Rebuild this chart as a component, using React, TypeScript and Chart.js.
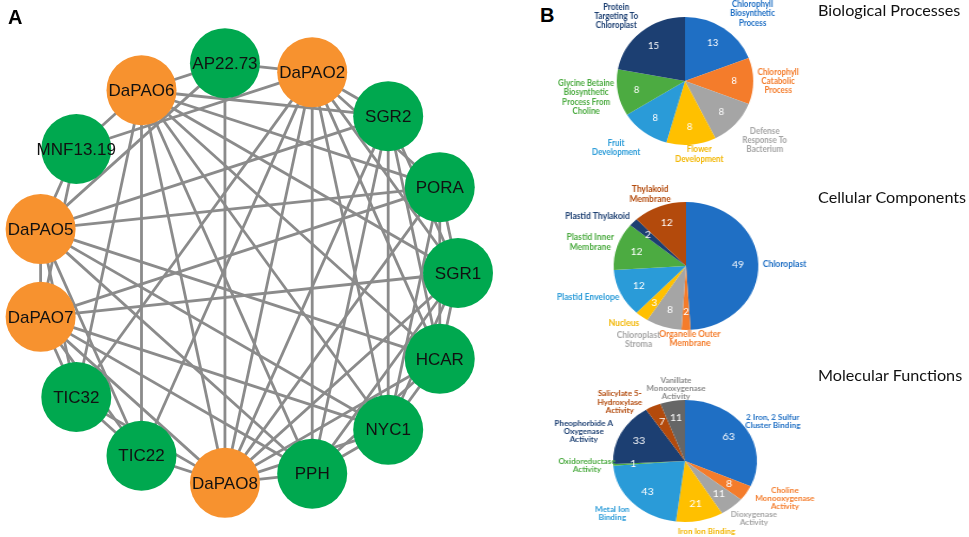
import React, { useEffect, useRef } from 'react';
import { Chart, registerables } from 'chart.js';
Chart.register(...registerables);

// ---------------- Panel A: interaction network ----------------
const nodeNames = ['SGR1', 'HCAR', 'NYC1', 'PPH', 'DaPAO8', 'TIC22', 'TIC32', 'DaPAO7', 'DaPAO5', 'MNF13.19', 'DaPAO6', 'AP22.73', 'DaPAO2', 'SGR2', 'PORA'];
const paoNodes = ['DaPAO2', 'DaPAO5', 'DaPAO6', 'DaPAO7', 'DaPAO8'];
const dapao2Links = ['SGR2', 'PORA', 'SGR1', 'HCAR', 'NYC1', 'PPH', 'TIC22', 'TIC32', 'DaPAO8', 'AP22.73', 'MNF13.19'];
const dapao6Links = ['SGR2', 'PORA', 'SGR1', 'HCAR', 'NYC1', 'PPH', 'TIC22', 'TIC32', 'DaPAO8', 'AP22.73', 'MNF13.19'];
const dapao8Links = ['SGR2', 'PORA', 'SGR1', 'HCAR', 'NYC1', 'PPH', 'TIC22', 'TIC32', 'AP22.73', 'DaPAO7'];
const dapao5Links = ['PORA', 'HCAR', 'NYC1', 'PPH', 'TIC22', 'TIC32', 'DaPAO7', 'MNF13.19', 'AP22.73', 'SGR2'];
const dapao7Links = ['SGR1', 'PORA', 'NYC1', 'PPH', 'TIC22', 'TIC32', 'MNF13.19'];
const partnerLinks: [string, string][] = [
  ['SGR1', 'SGR2'], ['SGR1', 'NYC1'], ['SGR1', 'PPH'], ['SGR1', 'HCAR'], ['SGR1', 'PORA'],
  ['SGR2', 'NYC1'], ['SGR2', 'PPH'], ['SGR2', 'HCAR'], ['NYC1', 'PPH'], ['NYC1', 'HCAR'],
  ['HCAR', 'PPH'], ['PORA', 'HCAR'], ['PORA', 'NYC1'], ['TIC22', 'TIC32'],
];

// ---------------- Panel B: GO pies ----------------
const bpCategories = ['Chlorophyll\nBiosynthetic\nProcess', 'Chlorophyll\nCatabolic\nProcess', 'Defense\nResponse To\nBacterium', 'Flower\nDevelopment', 'Fruit\nDevelopment', 'Glycine Betaine\nBiosynthetic\nProcess From\nCholine', 'Protein\nTargeting To\nChloroplast'];
const bpValues = [13, 8, 8, 8, 8, 8, 15];

const ccCategories = ['Chloroplast', 'Organelle Outer\nMembrane', 'Chloroplast\nStroma', 'Nucleus', 'Plastid Envelope', 'Plastid Inner\nMembrane', 'Plastid Thylakoid', 'Thylakoid\nMembrane'];
const ccValues = [49, 2, 8, 3, 12, 12, 2, 12];

const mfCategories = ['2 Iron, 2 Sulfur\nCluster Binding', 'Choline\nMonooxygenase\nActivity', 'Dioxygenase\nActivity', 'Iron Ion Binding', 'Metal Ion\nBinding', 'Oxidoreductase\nActivity', 'Pheophorbide A\nOxygenase\nActivity', 'Salicylate 5-\nHydroxylase\nActivity', 'Vanillate\nMonooxygenase\nActivity'];
const mfValues = [63, 8, 11, 21, 43, 1, 33, 7, 11];

const panelTitles = ['Biological Processes', 'Cellular Components', 'Molecular Functions'];

const sliceColors = ['#1F6FC4', '#F47C2B', '#A5A5A5', '#FFC000', '#2A9BD8', '#4CAB41', '#1C3F72', '#B34A0C', '#666666'];
const labelColors = ['#1F6FC4', '#F47C2B', '#A5A5A5', '#F2B600', '#2A9BD8', '#4CAB41', '#1C3F72', '#B34A0C', '#8A8A8A'];

const GREEN = '#00A84F';
const ORANGE = '#F7922F';

function NetworkChart() {
  const ref = useRef<HTMLCanvasElement | null>(null);
  useEffect(() => {
    const n = nodeNames.length;
    const pos = (name: string) => {
      const i = nodeNames.indexOf(name);
      const a = (-i * 2 * Math.PI) / n;
      return { x: Math.cos(a), y: Math.sin(a) };
    };
    const edges: [string, string][] = [];
    const seen = new Set<string>();
    const add = (a: string, b: string) => {
      const k = [a, b].sort().join('|');
      if (seen.has(k)) return;
      seen.add(k);
      edges.push([a, b]);
    };
    dapao2Links.forEach((b) => add('DaPAO2', b));
    dapao6Links.forEach((b) => add('DaPAO6', b));
    dapao8Links.forEach((b) => add('DaPAO8', b));
    dapao5Links.forEach((b) => add('DaPAO5', b));
    dapao7Links.forEach((b) => add('DaPAO7', b));
    partnerLinks.forEach(([a, b]) => add(a, b));

    const edgeSets = edges.map(([a, b]) => ({
      type: 'line' as const,
      data: [pos(a), pos(b)],
      borderColor: '#8B8B8B',
      borderWidth: 2.8,
      pointRadius: 0,
      showLine: true,
      order: 2,
      clip: false as any,
    }));
    const nodeSet = {
      type: 'scatter' as const,
      data: nodeNames.map((nm) => pos(nm)),
      pointRadius: 35,
      pointBackgroundColor: nodeNames.map((nm) => (paoNodes.includes(nm) ? ORANGE : GREEN)),
      pointBorderWidth: 0,
      borderWidth: 0,
      order: 1,
      clip: false as any,
    };
    const labelPlugin = {
      id: 'nodeLabels',
      afterDatasetsDraw(chart: any) {
        const ctx = chart.ctx;
        const meta = chart.getDatasetMeta(0);
        ctx.save();
        ctx.font = '17px "Liberation Sans", Arial, sans-serif';
        ctx.fillStyle = '#111';
        ctx.textAlign = 'center';
        ctx.textBaseline = 'middle';
        meta.data.forEach((pt: any, i: number) => ctx.fillText(nodeNames[i], pt.x, pt.y + 1));
        ctx.restore();
      },
    };
    const chart = new Chart(ref.current!, {
      type: 'scatter',
      data: { datasets: [nodeSet as any, ...(edgeSets as any)] },
      options: {
        responsive: false,
        animation: false,
        events: [],
        layout: { padding: 0, autoPadding: false },
        scales: {
          x: { type: 'linear', display: false, min: -1.1706, max: 1.2938 },
          y: { type: 'linear', display: false, min: -1.2512, max: 1.2938 },
        },
        plugins: { legend: { display: false }, tooltip: { enabled: false } },
      },
      plugins: [labelPlugin],
    });
    return () => chart.destroy();
  }, []);
  return <canvas ref={ref} width={520} height={537} style={{ position: 'absolute', left: 0, top: 0 }} />;
}

type PieProps = {
  categories: string[];
  values: number[];
  cx: number;
  cy: number;
  r: number;
  sx: number;
  fontPx: number;
  lineH: number;
  nudges: [number, number][];
};

const PW = 260;
const PH = 190;
const SQUEEZE = 0.82;

function PieChart({ categories, values, cx, cy, r, sx, fontPx, lineH, nudges }: PieProps) {
  const ref = useRef<HTMLCanvasElement | null>(null);
  useEffect(() => {
    const colors = sliceColors.slice(0, values.length);
    const lcolors = labelColors.slice(0, values.length);
    const labelPlugin = {
      id: 'pieLabels',
      afterDatasetsDraw(chart: any) {
        const ctx = chart.ctx;
        const meta = chart.getDatasetMeta(0);
        ctx.save();
        ctx.textAlign = 'center';
        ctx.textBaseline = 'middle';
        meta.data.forEach((arc: any, i: number) => {
          const p = arc.getProps(['x', 'y', 'startAngle', 'endAngle', 'outerRadius'], true);
          const mid = (p.startAngle + p.endAngle) / 2;
          const dx = Math.cos(mid);
          const dy = Math.sin(mid);
          // value inside the slice
          const vx = p.x + dx * p.outerRadius * 0.72;
          const vy = p.y + dy * p.outerRadius * 0.72;
          ctx.save();
          ctx.translate(vx, vy);
          ctx.scale(0.9, 1);
          ctx.font = '10px Lato, "Open Sans", sans-serif';
          ctx.fillStyle = '#ffffff';
          ctx.fillText(String(values[i]), 0, 0);
          ctx.restore();
          // category label outside
          const lines = categories[i].split('\n');
          ctx.font = `bold ${fontPx}px Lato, "Open Sans", sans-serif`;
          const w = Math.max(...lines.map((l) => ctx.measureText(l).width)) * SQUEEZE;
          const h = lines.length * lineH;
          const gap = 4;
          const ax = p.x + dx * (p.outerRadius + gap);
          const ay = p.y + dy * (p.outerRadius + gap);
          const bx = ax + (dx * w) / 2 + nudges[i][0];
          const by = ay + (dy * h) / 2 + nudges[i][1];
          ctx.fillStyle = lcolors[i];
          lines.forEach((l, k) => {
            ctx.save();
            ctx.translate(bx, by - h / 2 + lineH * (k + 0.5));
            ctx.scale(SQUEEZE, 1);
            ctx.fillText(l, 0, 0);
            ctx.restore();
          });
        });
        ctx.restore();
      },
    };
    const chart = new Chart(ref.current!, {
      type: 'pie',
      data: {
        labels: categories,
        datasets: [{ data: values, backgroundColor: colors, borderWidth: 0 }],
      },
      options: {
        responsive: false,
        animation: false,
        events: [],
        layout: { padding: { left: PW / 2 - r, right: PW / 2 - r, top: PH / 2 - r, bottom: PH / 2 - r } },
        plugins: { legend: { display: false }, tooltip: { enabled: false } },
      },
      plugins: [labelPlugin],
    });
    return () => chart.destroy();
  }, []);
  return (
    <div
      style={{
        position: 'absolute',
        left: cx - PW / 2,
        top: cy - PH / 2,
        width: PW,
        height: PH,
        transform: `scaleX(${sx})`,
        transformOrigin: `${PW / 2}px ${PH / 2}px`,
      }}
    >
      <canvas ref={ref} width={PW} height={PH} style={{ display: 'block' }} />
    </div>
  );
}

const zero = (n: number) => Array.from({ length: n }, () => [0, 0] as [number, number]);

export default function App() {
  const bpNudges = zero(7);
  bpNudges[0] = [13, 0];
  bpNudges[2] = [9, 4];
  bpNudges[3] = [5, -4];
  bpNudges[4] = [-10, 5];
  bpNudges[6] = [-8, -2];
  const ccNudges = zero(8);
  ccNudges[1] = [3.5, -4.5];
  ccNudges[2] = [-15, 0];
  ccNudges[3] = [-5, 0];
  ccNudges[6] = [-8, 0];
  const mfNudges = zero(9);
  mfNudges[1] = [8, -3];
  mfNudges[2] = [3, 2];
  mfNudges[3] = [0, 3];
  mfNudges[4] = [-4, 2];
  mfNudges[5] = [6, 0];
  mfNudges[6] = [-6, 6];
  mfNudges[7] = [-18, 10];
  mfNudges[8] = [8, 3];
  const titleStyle: React.CSSProperties = {
    position: 'absolute',
    left: 818,
    fontFamily: 'Lato, "Open Sans", sans-serif',
    fontSize: 16.2,
    lineHeight: '20px',
    color: '#111',
    whiteSpace: 'nowrap',
  };
  return (
    <div style={{ position: 'absolute', left: 0, top: 0, width: 969, height: 537, background: '#fff', overflow: 'hidden' }}>
      <NetworkChart />
      <div style={{ position: 'absolute', left: 8, top: 6, font: 'bold 20px "Liberation Sans", Arial, sans-serif' }}>A</div>
      <div style={{ position: 'absolute', left: 540, top: 4, font: 'bold 20px "Liberation Sans", Arial, sans-serif' }}>B</div>
      <PieChart categories={bpCategories} values={bpValues} cx={685} cy={81} r={64} sx={1.067} fontPx={9.2} lineH={9.3} nudges={bpNudges} />
      <PieChart categories={ccCategories} values={ccValues} cx={686} cy={265.5} r={64} sx={1.13} fontPx={9.2} lineH={9.3} nudges={ccNudges} />
      <PieChart categories={mfCategories} values={mfValues} cx={684.7} cy={461} r={61} sx={1.18} fontPx={8.4} lineH={8.1} nudges={mfNudges} />
      <div style={{ ...titleStyle, top: 0 }}>{panelTitles[0]}</div>
      <div style={{ ...titleStyle, top: 187 }}>{panelTitles[1]}</div>
      <div style={{ ...titleStyle, top: 365 }}>{panelTitles[2]}</div>
    </div>
  );
}
